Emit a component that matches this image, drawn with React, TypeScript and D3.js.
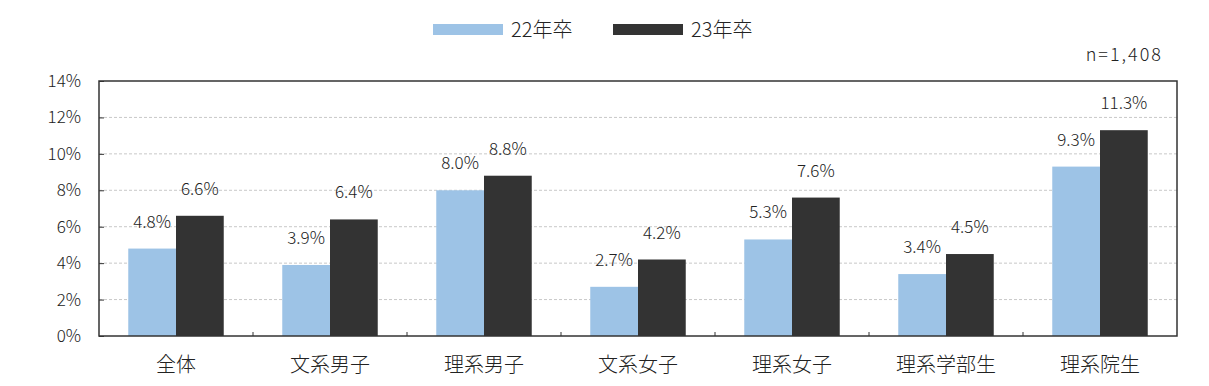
import React, { useEffect, useRef } from 'react';
import * as d3 from 'd3';

const categories = ['全体', '文系男子', '理系男子', '文系女子', '理系女子', '理系学部生', '理系院生'];
const seriesNames = ['22年卒', '23年卒'];
const values22 = [4.8, 3.9, 8.0, 2.7, 5.3, 3.4, 9.3];
const values23 = [6.6, 6.4, 8.8, 4.2, 7.6, 4.5, 11.3];
const yTicks = [0, 2, 4, 6, 8, 10, 12, 14];
const colors = ['#9dc3e6', '#333333'];

const FONT = '"Noto Sans CJK JP", "Noto Sans", sans-serif';

const App = () => {
  const svgRef = useRef<SVGSVGElement>(null);

  useEffect(() => {
    const svg = d3.select(svgRef.current);
    svg.selectAll('*').remove();

    const margin = { top: 81, right: 32, bottom: 50, left: 99 };
    const W = 1209;
    const H = 386;
    const width = W - margin.left - margin.right;
    const height = H - margin.top - margin.bottom;

    const g = svg.append('g').attr('transform', `translate(${margin.left},${margin.top})`);

    const x = d3.scaleBand().domain(categories).range([0, width]).paddingInner(0).paddingOuter(0);
    const groupW = x.bandwidth() * 0.62;
    const x1 = d3.scaleBand().domain(seriesNames).range([0, groupW]);
    const y = d3.scaleLinear().domain([0, 14]).range([height, 0]);

    // gridlines
    g.selectAll('.grid')
      .data(yTicks.filter(t => t > 0 && t < 14))
      .join('line')
      .attr('x1', 0)
      .attr('x2', width)
      .attr('y1', d => y(d))
      .attr('y2', d => y(d))
      .attr('stroke', '#c8c8c8')
      .attr('stroke-dasharray', '3,2')
      .attr('stroke-width', 1);

    // bars + value labels
    const series = [values22, values23];
    series.forEach((vals, si) => {
      const bx = (i: number) => x(categories[i])! + (x.bandwidth() - groupW) / 2 + x1(seriesNames[si])!;
      g.selectAll(`.bar${si}`)
        .data(vals)
        .join('rect')
        .attr('x', (d, i) => bx(i))
        .attr('y', d => y(d))
        .attr('width', x1.bandwidth())
        .attr('height', d => height - y(d))
        .attr('fill', colors[si]);

      g.selectAll(`.lab${si}`)
        .data(vals)
        .join('text')
        .attr('x', (d, i) => bx(i) + x1.bandwidth() / 2)
        .attr('y', d => y(d) - 21)
        .attr('text-anchor', 'middle')
        .style('font-family', FONT)
        .style('font-weight', 300)
        .style('font-size', '17px')
        .style('fill', '#222')
        .text(d => d.toFixed(1) + '%');
    });

    // y axis
    const yAxis = g.append('g').call(
      d3.axisLeft(y).tickValues(yTicks).tickSize(-5).tickPadding(18).tickFormat(d => `${d}%`)
    );
    yAxis.select('.domain').remove();
    yAxis.selectAll('line').attr('stroke', '#333');
    yAxis.selectAll('text')
      .style('font-family', FONT)
      .style('font-weight', 300)
      .style('font-size', '17px')
      .style('fill', '#222');

    // category ticks on bottom
    g.selectAll('.ctick')
      .data(categories.slice(1))
      .join('line')
      .attr('x1', d => x(d)!)
      .attr('x2', d => x(d)!)
      .attr('y1', height)
      .attr('y2', height - 4)
      .attr('stroke', '#333');

    // frame
    g.append('rect')
      .attr('x', 0)
      .attr('y', 0)
      .attr('width', width)
      .attr('height', height)
      .attr('fill', 'none')
      .attr('stroke', '#333')
      .attr('stroke-width', 1.5);

    // category labels
    g.selectAll('.cat')
      .data(categories)
      .join('text')
      .attr('x', d => x(d)! + x.bandwidth() / 2)
      .attr('y', height + 36)
      .attr('text-anchor', 'middle')
      .style('font-family', FONT)
      .style('font-weight', 300)
      .style('font-size', '20px')
      .style('fill', '#222')
      .text(d => d);

    // legend
    const legend = svg.append('g');
    const legendX = [433, 613];
    seriesNames.forEach((name, i) => {
      legend.append('rect')
        .attr('x', legendX[i])
        .attr('y', 24)
        .attr('width', 70)
        .attr('height', 11)
        .attr('fill', colors[i]);
      legend.append('text')
        .attr('x', legendX[i] + 78)
        .attr('y', 37)
        .style('font-family', FONT)
        .style('font-weight', 300)
        .style('font-size', '20px')
        .style('fill', '#222')
        .text(name);
    });

    // n label
    svg.append('text')
      .attr('x', 1163)
      .attr('y', 61)
      .attr('text-anchor', 'end')
      .style('font-family', FONT)
      .style('font-weight', 300)
      .style('font-size', '18px')
      .style('letter-spacing', '2px')
      .style('fill', '#222')
      .text('n=1,408');
  }, []);

  return (
    <div style={{ position: 'fixed', left: 0, top: 0, background: '#fff' }}>
      <svg ref={svgRef} width={1209} height={386} />
    </div>
  );
};

export default App;
